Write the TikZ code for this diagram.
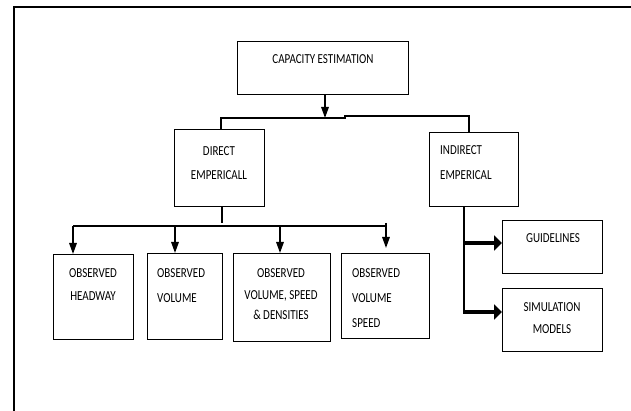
\documentclass[tikz,border=0pt]{standalone}
\usepackage{fontspec}
\setmainfont{Carlito}
\usetikzlibrary{arrows.meta}
\newcommand\stretchtxt[1]{\scalebox{1}[1.25]{#1}}
\begin{document}
\begin{tikzpicture}[x=1pt,y=-1pt,
  box/.style={draw, line width=1.2pt, inner sep=0pt, anchor=north west},
  lbl/.style={inner sep=0pt, font=\fontsize{11}{13}\selectfont, anchor=base},
  lbll/.style={lbl, anchor=base west},
  thin/.style={line width=1.1pt},
  arr/.style={line width=1.6pt, -{Triangle[length=11pt,width=7.5pt]}},
  fat/.style={line width=3.5pt, -{Triangle[length=8pt,width=15pt]}},
  frame/.style={line width=2.4pt}]
\useasboundingbox (0,0) rectangle (631,411);
% outer frame
\coordinate (fb) at (14,411);
\coordinate (fc) at (14,7);
\coordinate (fr) at (631,7);
\draw[frame] (fb) -- (fc) -- (fr);
% boxes
\node[box, minimum width=171pt, minimum height=53pt] (cap) at (237,41) {};
\node[box, minimum width=90pt, minimum height=77pt] (dir) at (174,129) {};
\node[box, minimum width=89pt, minimum height=74pt] (ind) at (429,132) {};
\node[box, minimum width=80pt, minimum height=85pt] (hw) at (53,254) {};
\node[box, minimum width=75pt, minimum height=86pt] (vol) at (147,253) {};
\node[box, minimum width=97pt, minimum height=88pt] (vsd) at (233,253) {};
\node[box, minimum width=88pt, minimum height=85pt] (vs) at (341,253) {};
\node[box, minimum width=100pt, minimum height=53pt] (gl) at (502,220) {};
\node[box, minimum width=100pt, minimum height=63pt] (sim) at (502,288) {};
% texts
\node[lbl] (t1) at (323,64) {\stretchtxt{CAPACITY ESTIMATION}};
\node[lbl] (t2) at (219,156) {\stretchtxt{DIRECT}};
\node[lbl] (t3) at (219,180) {\stretchtxt{EMPERICALL}};
\node[lbll] (t4) at (440,155) {\stretchtxt{INDIRECT}};
\node[lbll] (t5) at (440,180) {\stretchtxt{EMPERICAL}};
\node[lbl] (t6) at (93,278) {\stretchtxt{OBSERVED}};
\node[lbl] (t7) at (93,301) {\stretchtxt{HEADWAY}};
\node[lbll] (t8) at (157,277) {\stretchtxt{OBSERVED}};
\node[lbll] (t9) at (157,302) {\stretchtxt{VOLUME}};
\node[lbl] (t10) at (281,277) {\stretchtxt{OBSERVED}};
\node[lbl] (t11) at (281,299) {\stretchtxt{VOLUME, SPEED}};
\node[lbl] (t12) at (281,319) {\stretchtxt{\& DENSITIES}};
\node[lbll] (t13) at (352,277) {\stretchtxt{OBSERVED}};
\node[lbll] (t14) at (352,302) {\stretchtxt{VOLUME}};
\node[lbll] (t15) at (352,327) {\stretchtxt{SPEED}};
\node[lbl] (t16) at (553,243) {\stretchtxt{GUIDELINES}};
\node[lbl] (t17) at (552,312) {\stretchtxt{SIMULATION}};
\node[lbl] (t18) at (552,333) {\stretchtxt{MODELS}};
% top connector
\coordinate (j1) at (325,118);
\draw[arr] (cap.south -| j1) -- (j1);
\coordinate (hL) at (221,118);
\coordinate (hM) at (345,118);
\coordinate (hN) at (345,116);
\coordinate (hR) at (469,116);
\draw[thin] (dir.north -| hL) -- (hL) -- (hM) -- (hN) -- (hR) -- (ind.north -| hR);
% direct branch
\coordinate (ds) at (222,223);
\draw[thin] (dir.south -| ds) -- (ds);
\coordinate (b1) at (73,226);
\coordinate (b2) at (175,226);
\coordinate (b3) at (280,226);
\coordinate (b4) at (385,226);
\draw[thin] (b1) -- (b4);
\draw[arr] (b1) -- (hw.north -| b1);
\draw[arr] (b2) -- (vol.north -| b2);
\draw[arr] (b3) -- (vsd.north -| b3);
\coordinate (b4a) at (386,223);
\coordinate (b4b) at (386,248);
\draw[arr] (b4a) -- (b4b);
% indirect branch
\coordinate (iv) at (464,313);
\draw[thin] (ind.south -| iv) -- (iv);
\coordinate (g1) at (463,243);
\coordinate (g2) at (463,312);
\draw[fat] (g1) -- (gl.west |- g1);
\draw[fat] (g2) -- (sim.west |- g2);
\end{tikzpicture}
\end{document}
